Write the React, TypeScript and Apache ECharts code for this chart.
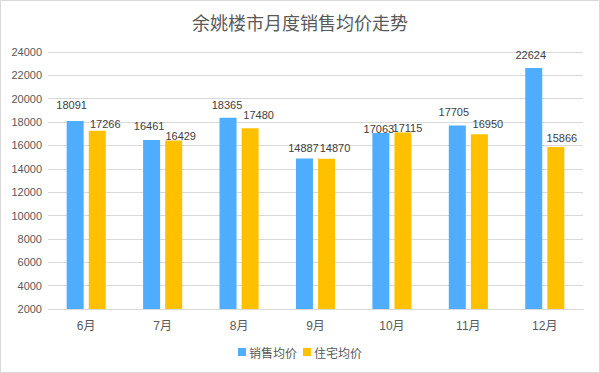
import React, { useEffect, useRef } from "react";
import * as echarts from "echarts";

const categories = ["6月", "7月", "8月", "9月", "10月", "11月", "12月"];
const salesAvg = [18091, 16461, 18365, 14887, 17063, 17705, 22624];
const residentialAvg = [17266, 16429, 17480, 14870, 17115, 16950, 15866];
const seriesNames = ["销售均价", "住宅均价"];

// label placement tweaks (x shift, visible gap above bar) per category
const salesLabelShift = [[-3.5, 13], [-2.5, 11], [-1, 9], [-1, 7], [-2, 1], [-3.5, 10], [-3, 10]];
const resLabelShift = [[8, 3], [7, 1], [8.5, 10], [8.5, 7], [4.5, 1], [8.5, 7], [6, 6]];

export default function App() {
  const ref = useRef<HTMLDivElement>(null);
  useEffect(() => {
    if (!ref.current) return;
    const chart = echarts.init(ref.current, undefined, { renderer: "svg" });
    const font = "'Liberation Sans', 'Noto Sans CJK SC', sans-serif";
    const labelBase = { show: true, position: "top", fontFamily: font, fontSize: 11, color: "#404040", distance: 0 };
    const mk = (vals: number[], shifts: number[][]) =>
      vals.map((v, i) => ({
        value: v,
        label: { offset: [shifts[i][0], -(shifts[i][1] - 2)] },
      }));
    chart.setOption({
      animation: false,
      backgroundColor: "#ffffff",
      title: {
        text: "余姚楼市月度销售均价走势",
        left: "center",
        top: 8,
        textStyle: { fontFamily: "'Noto Sans CJK SC', sans-serif", fontSize: 18, fontWeight: "normal", color: "#595959" },
      },
      graphic: [
        {
          type: "rect",
          shape: { x: 0.5, y: 0.5, width: 599, height: 372 },
          style: { fill: "none", stroke: "#d9d9d9", lineWidth: 1 },
          silent: true,
        },
      ],
      legend: {
        bottom: 10,
        left: "center",
        itemWidth: 8,
        itemHeight: 8,
        itemGap: 6,
        icon: "rect",
        textStyle: { fontFamily: "'Noto Sans CJK SC', sans-serif", fontSize: 12, color: "#595959", padding: [0, 0, 0, -2] },
        data: seriesNames,
      },
      grid: { left: 48, right: 17, top: 52, bottom: 64, containLabel: false },
      xAxis: {
        type: "category",
        data: categories,
        axisTick: { show: false },
        axisLine: { lineStyle: { color: "#d9d9d9" } },
        axisLabel: { fontFamily: font, fontSize: 12, color: "#595959", margin: 11 },
      },
      yAxis: {
        type: "value",
        min: 2000,
        max: 24000,
        interval: 2000,
        axisLine: { show: false },
        axisTick: { show: false },
        splitLine: { lineStyle: { color: "#d9d9d9" } },
        axisLabel: { fontFamily: font, fontSize: 11, color: "#595959", margin: 6, formatter: (v: number) => String(v) },
      },
      series: [
        {
          name: seriesNames[0],
          type: "bar",
          data: mk(salesAvg, salesLabelShift),
          barWidth: 17,
          barGap: "30%",
          itemStyle: { color: "#4EADFF" },
          label: labelBase,
        },
        {
          name: seriesNames[1],
          type: "bar",
          data: mk(residentialAvg, resLabelShift),
          barWidth: 17,
          itemStyle: { color: "#FFC000" },
          label: labelBase,
        },
      ],
    });
    return () => chart.dispose();
  }, []);
  return <div ref={ref} style={{ position: "fixed", left: 0, top: 0, width: 600, height: 373 }} />;
}
